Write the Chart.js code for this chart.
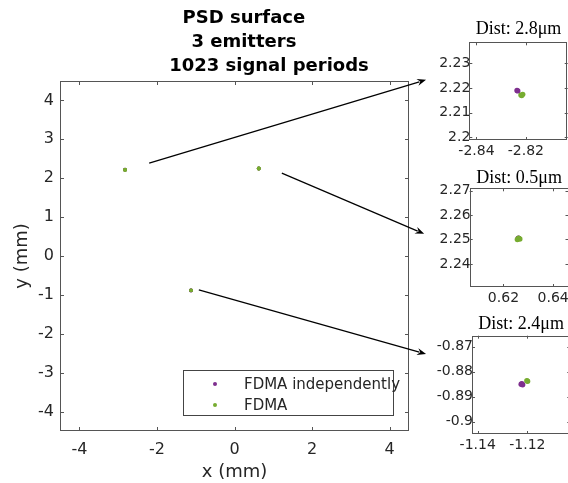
<!DOCTYPE html>
<html>
<head>
<meta charset="utf-8">
<script src="https://cdn.jsdelivr.net/npm/chart.js@4.4.1/dist/chart.umd.min.js"></script>
<style>
html, body { margin: 0; padding: 0; width: 568px; height: 483px; overflow: hidden; background: #fff; }
.pane { position: absolute; }
#legend { position: absolute; left: 183px; top: 370px; width: 211px; height: 46px; box-sizing: border-box;
  border: 1px solid #444; background: #fff; font: 15px "DejaVu Sans"; color: #262626; }
#legend .dot { position: absolute; width: 4px; height: 4px; border-radius: 2px; }
#legend .txt { position: absolute; left: 60px; line-height: 18px; white-space: nowrap; }
</style>
</head>
<body>
<div class="pane" style="left:0;top:0;width:430px;height:483px"><canvas id="main"></canvas></div>
<div class="pane" style="left:410px;top:0;width:170px;height:160px"><canvas id="inset1"></canvas></div>
<div class="pane" style="left:410px;top:145px;width:170px;height:160px"><canvas id="inset2"></canvas></div>
<div class="pane" style="left:410px;top:300px;width:170px;height:160px"><canvas id="inset3"></canvas></div>
<div id="legend"></div>
<script>
// series, positions in mm
const seriesNames = ["FDMA independently", "FDMA"];
const seriesColors = ["#7E2F8E", "#77AC30"];
const indepX = [-2.8236, -2.8233, 0.6259, 0.6261, -1.1225, -1.1219, -1.1222];
const indepY = [2.2190, 2.2188, 2.2504, 2.2505, -0.8850, -0.8852, -0.8848];
const fdmaX = [-2.8220, -2.8213, -2.8217, 0.6256, 0.6266, 0.6261, -1.1202, -1.1199];
const fdmaY = [2.2171, 2.2174, 2.2169, 2.2500, 2.2502, 2.2505, -0.8836, -0.8838];

const mainTitle = ["   PSD surface", "   3 emitters", "           1023 signal periods"];
const mainXTicks = [-4, -2, 0, 2, 4];
const mainYTicks = [-4, -3, -2, -1, 0, 1, 2, 3, 4];

const insetTitles = ["Dist: 2.8\u03BCm", "Dist: 0.5\u03BCm", "Dist: 2.4\u03BCm"];
const insetXRange = [[-2.8429, -2.8031], [0.6064, 0.6462], [-1.1423, -1.1027]];
const insetYRange = [[2.1989, 2.2385], [2.2306, 2.2709], [-0.9049, -0.8656]];
const insetXTicks = [[-2.84, -2.82], [0.62, 0.64], [-1.14, -1.12]];
const insetYTicks = [[2.2, 2.21, 2.22, 2.23], [2.24, 2.25, 2.26, 2.27], [-0.9, -0.89, -0.88, -0.87]];

// arrows from the main axes to the zoom boxes, in main-axes mm
const arrows = [
  { from: [-2.20, 2.39], to: [4.94, 4.53] },
  { from: [1.22, 2.13], to: [4.89, 0.57] },
  { from: [-0.92, -0.87], to: [4.94, -2.52] }
];

// inset placement inside its 170x160 canvas
const insetBoxes = [
  { id: "inset1", left: 59.3, right: 157.7, top: 42.3, bottom: 140, titleTop: 20 },
  { id: "inset2", left: 59.7, right: 158.5, top: 43.3, bottom: 142, titleTop: 24.5 },
  { id: "inset3", left: 62, right: 160.3, top: 35.7, bottom: 134, titleTop: 15 }
];

const axisColor = "#262626";

function toPoints(xs, ys) {
  return xs.map((x, i) => ({ x: x, y: ys[i] }));
}

function fmt(v) {
  return String(Math.round(v * 1000) / 1000);
}

// box round the axes with ticks pointing inward, like matlab
const frame = {
  id: "frame",
  afterDraw(chart, args, opts) {
    const ctx = chart.ctx;
    const a = chart.chartArea;
    const sx = chart.scales.x, sy = chart.scales.y;
    const len = opts.len;
    ctx.save();
    ctx.strokeStyle = "#555";
    ctx.lineWidth = 1;
    ctx.strokeRect(Math.round(a.left) + 0.5, Math.round(a.top) + 0.5,
      Math.round(a.right - a.left) - 1, Math.round(a.bottom - a.top) - 1);
    ctx.beginPath();
    sx.ticks.forEach(t => {
      const px = Math.round(sx.getPixelForValue(t.value)) + 0.5;
      ctx.moveTo(px, a.bottom); ctx.lineTo(px, a.bottom - len);
      ctx.moveTo(px, a.top); ctx.lineTo(px, a.top + len);
    });
    sy.ticks.forEach(t => {
      const py = Math.round(sy.getPixelForValue(t.value)) + 0.5;
      ctx.moveTo(a.left, py); ctx.lineTo(a.left + len, py);
      ctx.moveTo(a.right, py); ctx.lineTo(a.right - len, py);
    });
    ctx.stroke();
    ctx.restore();
  }
};

const arrowPlugin = {
  id: "arrows",
  afterDraw(chart) {
    const ctx = chart.ctx;
    const sx = chart.scales.x, sy = chart.scales.y;
    ctx.save();
    ctx.strokeStyle = "#000";
    ctx.fillStyle = "#000";
    ctx.lineWidth = 1.2;
    arrows.forEach(ar => {
      const x0 = sx.getPixelForValue(ar.from[0]), y0 = sy.getPixelForValue(ar.from[1]);
      const x1 = sx.getPixelForValue(ar.to[0]), y1 = sy.getPixelForValue(ar.to[1]);
      const ang = Math.atan2(y1 - y0, x1 - x0);
      const hl = 9, hw = 3.5;
      const bx = x1 - hl * Math.cos(ang), by = y1 - hl * Math.sin(ang);
      ctx.beginPath();
      ctx.moveTo(x0, y0);
      ctx.lineTo(bx + 2 * Math.cos(ang), by + 2 * Math.sin(ang));
      ctx.stroke();
      ctx.beginPath();
      ctx.moveTo(x1, y1);
      ctx.lineTo(bx - hw * Math.sin(ang), by + hw * Math.cos(ang));
      ctx.lineTo(bx + 3 * Math.cos(ang), by + 3 * Math.sin(ang));
      ctx.lineTo(bx + hw * Math.sin(ang), by - hw * Math.cos(ang));
      ctx.closePath();
      ctx.fill();
    });
    ctx.restore();
  }
};

function makeDatasets(radius) {
  return [
    { label: seriesNames[0], data: toPoints(indepX, indepY), backgroundColor: seriesColors[0],
      borderColor: seriesColors[0], pointRadius: radius, pointBorderWidth: 0, order: 1 },
    { label: seriesNames[1], data: toPoints(fdmaX, fdmaY), backgroundColor: seriesColors[1],
      borderColor: seriesColors[1], pointRadius: radius, pointBorderWidth: 0, order: 0 }
  ];
}

new Chart(document.getElementById("main"), {
  type: "scatter",
  data: { datasets: makeDatasets(1.9) },
  options: {
    responsive: true,
    maintainAspectRatio: false,
    animation: false,
    layout: { padding: { left: 0, right: 21, top: 0, bottom: 0 } },
    plugins: {
      legend: { display: false },
      tooltip: { enabled: false },
      frame: { len: 4 },
      title: {
        display: true,
        fullSize: false,
        text: mainTitle,
        color: "#000",
        font: { family: "DejaVu Sans", size: 18, weight: "bold", lineHeight: 24 / 18 },
        padding: { top: 6.7, bottom: 2.3 }
      }
    },
    scales: {
      x: {
        type: "linear", min: -4.5, max: 4.5,
        afterBuildTicks: s => { s.ticks = mainXTicks.map(v => ({ value: v })); },
        afterFit: s => { s.height = 52; },
        grid: { display: false, drawTicks: false },
        border: { display: false },
        ticks: { autoSkip: false, maxRotation: 0, padding: 9, color: axisColor,
          font: { family: "DejaVu Sans", size: 16 }, callback: v => fmt(v) },
        title: { display: true, text: "x (mm)", color: axisColor,
          font: { family: "DejaVu Sans", size: 18, lineHeight: 1.2 }, padding: { top: 0, bottom: 0 } }
      },
      y: {
        type: "linear", min: -4.5, max: 4.5,
        afterBuildTicks: s => { s.ticks = mainYTicks.map(v => ({ value: v })); },
        afterFit: s => { s.width = 60; },
        grid: { display: false, drawTicks: false },
        border: { display: false },
        ticks: { autoSkip: false, padding: 6, color: axisColor,
          font: { family: "DejaVu Sans", size: 16 }, callback: v => fmt(v) },
        title: { display: true, text: "y (mm)", color: axisColor,
          font: { family: "DejaVu Sans", size: 18, lineHeight: 1.2 }, padding: { top: 12, bottom: 0 } }
      }
    }
  },
  plugins: [frame, arrowPlugin]
});

insetBoxes.forEach((b, i) => {
  new Chart(document.getElementById(b.id), {
    type: "scatter",
    data: { datasets: makeDatasets(2.7) },
    options: {
      responsive: true,
      maintainAspectRatio: false,
      animation: false,
      layout: { padding: { left: 0, right: 170 - b.right, top: 0, bottom: 0 } },
      plugins: {
        legend: { display: false },
        tooltip: { enabled: false },
        frame: { len: 3 },
        title: {
          display: true,
          fullSize: false,
          text: insetTitles[i],
          color: "#000",
          font: { family: "Liberation Serif", size: 18, weight: "normal", lineHeight: 1 },
          padding: { top: b.titleTop, bottom: b.top - b.titleTop - 18 }
        }
      },
      scales: {
        x: {
          type: "linear", min: insetXRange[i][0], max: insetXRange[i][1],
          afterBuildTicks: s => { s.ticks = insetXTicks[i].map(v => ({ value: v })); },
          afterFit: s => { s.height = 160 - b.bottom; },
          grid: { display: false, drawTicks: false },
          border: { display: false },
          ticks: { autoSkip: false, maxRotation: 0, padding: 3, color: axisColor,
            font: { family: "DejaVu Sans", size: 14 }, callback: v => fmt(v) }
        },
        y: {
          type: "linear", min: insetYRange[i][0], max: insetYRange[i][1],
          afterBuildTicks: s => { s.ticks = insetYTicks[i].map(v => ({ value: v })); },
          afterFit: s => { s.width = b.left; },
          grid: { display: false, drawTicks: false },
          border: { display: false },
          ticks: { autoSkip: false, padding: -1, color: axisColor,
            font: { family: "DejaVu Sans", size: 14 }, callback: v => fmt(v) }
        }
      }
    },
    plugins: [frame]
  });
});

// legend box inside the main axes
const legend = document.getElementById("legend");
seriesNames.forEach((name, i) => {
  const dot = document.createElement("div");
  dot.className = "dot";
  dot.style.background = seriesColors[i];
  dot.style.left = "29px";
  dot.style.top = (11.3 + i * 21) + "px";
  legend.appendChild(dot);
  const txt = document.createElement("div");
  txt.className = "txt";
  txt.style.top = (4.3 + i * 21) + "px";
  txt.textContent = name;
  legend.appendChild(txt);
});
</script>
</body>
</html>
